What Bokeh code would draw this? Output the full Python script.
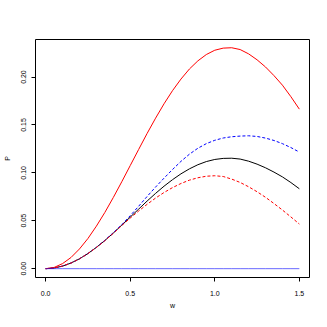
from bokeh.plotting import figure
from bokeh.models import FixedTicker, Range1d, ColumnDataSource
from bokeh.embed import file_html
from bokeh.resources import INLINE

# ---- data ----
w = [0.00, 0.05, 0.10, 0.15, 0.20, 0.25, 0.30, 0.35, 0.40, 0.45, 0.50,
     0.55, 0.60, 0.65, 0.70, 0.75, 0.80, 0.85, 0.90, 0.95, 1.00,
     1.05, 1.10, 1.15, 1.20, 1.25, 1.30, 1.35, 1.40, 1.45, 1.50]
red_solid = [0.0, 0.0013, 0.0053, 0.0117, 0.0206, 0.0315, 0.0444, 0.0587, 0.0743, 0.0907, 0.1076,
             0.1245, 0.1412, 0.1571, 0.1721, 0.1858, 0.1979, 0.2084, 0.2169, 0.2235, 0.2280,
             0.2302, 0.2306, 0.2287, 0.2242, 0.2180, 0.2105, 0.2015, 0.1915, 0.1795, 0.1665]
black_solid = [0.0, 0.0007, 0.0027, 0.0059, 0.0103, 0.0158, 0.0222, 0.0294, 0.0372, 0.0454, 0.0538,
               0.0622, 0.0706, 0.0786, 0.0861, 0.0929, 0.0990, 0.1042, 0.1085, 0.1118, 0.1140,
               0.1151, 0.1153, 0.1144, 0.1122, 0.1091, 0.1053, 0.1008, 0.0958, 0.0899, 0.0834]
blue_dashed = [0.0, 0.0007, 0.0027, 0.0059, 0.0103, 0.0158, 0.0223, 0.0296, 0.0376, 0.0459, 0.0553,
               0.0652, 0.0754, 0.0852, 0.0945, 0.1035, 0.1120, 0.1195, 0.1257, 0.1305, 0.1340,
               0.1364, 0.1377, 0.1384, 0.1387, 0.1380, 0.1363, 0.1338, 0.1305, 0.1264, 0.1217]
red_dashed = [0.0, 0.0007, 0.0027, 0.0059, 0.0103, 0.0157, 0.0221, 0.0292, 0.0369, 0.0450, 0.0528,
              0.0602, 0.0672, 0.0737, 0.0795, 0.0846, 0.0889, 0.0924, 0.0949, 0.0965, 0.0970,
              0.0962, 0.0935, 0.0900, 0.0855, 0.0803, 0.0745, 0.0680, 0.0612, 0.0540, 0.0466]
blue_solid = [0.0] * len(w)

x_ticks = [0.0, 0.5, 1.0, 1.5]
x_tick_labels = ["0.0", "0.5", "1.0", "1.5"]
y_ticks = [0.0, 0.05, 0.10, 0.15, 0.20]
y_tick_labels = ["0.00", "0.05", "0.10", "0.15", "0.20"]

src = ColumnDataSource(dict(w=w, black=black_solid, red=red_solid,
                            bdash=blue_dashed, rdash=red_dashed, blue=blue_solid))

FONT = "Liberation Sans"

p = figure(width=311, height=311, output_backend="svg", toolbar_location=None,
           x_range=Range1d(-0.06, 1.56), y_range=Range1d(-0.0092, 0.2392),
           min_border_left=34, min_border_right=2, min_border_top=39, min_border_bottom=34)
p.grid.visible = False
p.background_fill_color = "white"
p.border_fill_color = "white"
p.outline_line_color = "black"
p.outline_line_width = 1

p.line("w", "black", source=src, line_color="black", line_width=1)
p.line("w", "red", source=src, line_color="red", line_width=1)
p.line("w", "bdash", source=src, line_color="blue", line_width=1, line_dash="3 2")
p.line("w", "rdash", source=src, line_color="red", line_width=1, line_dash="3 2")
p.line("w", "blue", source=src, line_color="blue", line_width=1, line_alpha=0.6)

for ax, ticks, labels in ((p.xaxis[0], x_ticks, x_tick_labels), (p.yaxis[0], y_ticks, y_tick_labels)):
    ax.ticker = FixedTicker(ticks=ticks)
    ax.major_label_overrides = {t: l for t, l in zip(ticks, labels)}
    ax.bounds = (ticks[0], ticks[-1])
    ax.minor_tick_line_color = None
    ax.major_tick_in = 0
    ax.major_tick_out = 4
    ax.major_label_text_font = FONT
    ax.major_label_text_font_size = "7px"
    ax.major_label_text_color = "black"
    ax.axis_label_text_font = FONT
    ax.axis_label_text_font_size = "7px"
    ax.axis_label_text_font_style = "normal"
    ax.axis_label_text_color = "black"
    ax.axis_line_color = "black"
    ax.major_tick_line_color = "black"

p.xaxis.axis_label = "w"
p.yaxis.axis_label = "P"
p.xaxis.major_label_standoff = 9
p.xaxis.axis_label_standoff = 3
p.yaxis.major_label_orientation = "vertical"
p.yaxis.major_label_standoff = 5
p.yaxis.axis_label_standoff = 8

open("out.html", "w").write(file_html(p, INLINE))
